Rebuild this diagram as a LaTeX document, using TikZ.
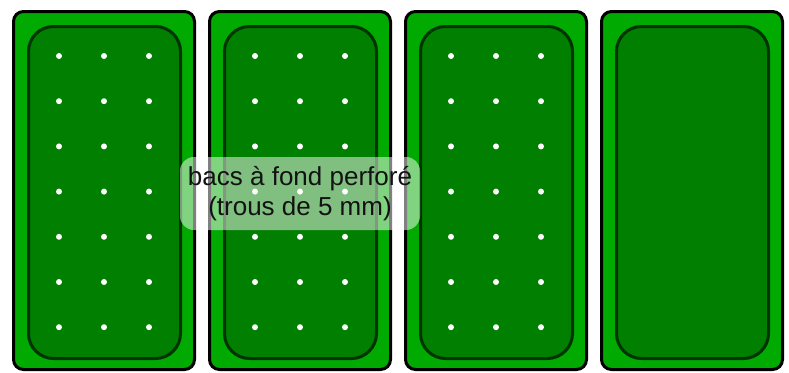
\documentclass[tikz,border=0pt]{standalone}
\usepackage{fontspec}
\setmainfont{Liberation Sans}
\begin{document}
\begin{tikzpicture}[x=1pt,y=-1pt,
  outerbox/.style={draw=black,line width=3pt,fill=outerg,rounded corners=10pt},
  innerbox/.style={draw=innerline,line width=3pt,fill=innerg,rounded corners=25pt},
  hole/.style={fill=white,draw=none},
  labelbox/.style={fill=white,fill opacity=0.5,text opacity=1,rounded corners=14pt,
    minimum width=240pt,minimum height=73pt,align=center,inner sep=0pt,
    font=\fontsize{26pt}{30pt}\selectfont,text=black!93}]
\definecolor{outerg}{HTML}{00AA00}
\definecolor{innerg}{HTML}{007F00}
\definecolor{innerline}{HTML}{003300}
\useasboundingbox (0,0) rectangle (789,372);
\foreach \i in {0,1,2,3}{
  \pgfmathsetmacro{\xo}{196*\i}
  \draw[outerbox] (\xo+13.5,11.5) rectangle (\xo+194.5,369.5);
  \draw[innerbox] (\xo+28.5,26.5) rectangle (\xo+180.5,358.5);
}
\foreach \i in {0,1,2}{
  \foreach \c in {0,1,2}{
    \foreach \r in {0,...,6}{
      \fill[hole] (196*\i+59+45*\c,56+45.2*\r) circle (3pt);
    }
  }
}
\node[labelbox] (label) at (300,193.5) {bacs à fond perforé\\(trous de 5 mm)};
\end{tikzpicture}
\end{document}
